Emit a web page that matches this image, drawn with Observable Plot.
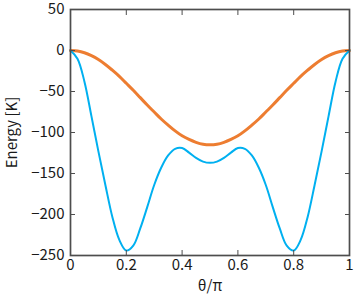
<!DOCTYPE html>
<html><head><meta charset="utf-8">
<script src="https://cdn.jsdelivr.net/npm/d3@7"></script>
<script src="https://cdn.jsdelivr.net/npm/@observablehq/plot@0.6"></script>
<style>html,body{margin:0;padding:0;background:#fff;}</style>
</head><body><div id="chart"></div>
<script>
const theta = [0,0.025,0.05,0.075,0.1,0.125,0.15,0.175,0.2,0.225,0.25,0.275,0.3,0.325,0.35,0.375,0.4,0.425,0.45,0.475,0.5,
  0.525,0.55,0.575,0.6,0.625,0.65,0.675,0.7,0.725,0.75,0.775,0.8,0.825,0.85,0.875,0.9,0.925,0.95,0.975,1];
const orangeE = [0,-0.7,-2.8,-6.3,-11,-17,-24,-31.5,-40,-48.5,-57.5,-66.5,-75,-83.5,-91,-98,-104,-108.5,-112,-114.3,-115,
  -114.3,-112,-108.5,-104,-98,-91,-83.5,-75,-66.5,-57.5,-48.5,-40,-31.5,-24,-17,-11,-6.3,-2.8,-0.7,0];
const blueE = [0,-10,-38,-80,-123,-164,-203,-231,-244,-238,-217,-191,-164,-143,-128,-120,-119,-124.5,-131,-135.5,-137,
  -135.5,-131,-124.5,-119,-120,-128,-143,-164,-191,-217,-238,-244,-231,-203,-164,-123,-80,-38,-10,0];
const seriesNames = ["blue","orange"];
const seriesColors = ["#00B0F0","#ED7D31"];
const xTicks = [0,0.2,0.4,0.6,0.8,1];
const xTickLabels = ["0","0.2","0.4","0.6","0.8","1"];
const yTicks = [50,0,-50,-100,-150,-200,-250];
const xLabel = "θ/π";
const yLabel = "Energy [K]";

const blueRows = theta.map((t,i)=>({t, e: blueE[i]}));
const orangeRows = theta.map((t,i)=>({t, e: orangeE[i]}));
const axisColor = "#4d4d4d";

const chart = Plot.plot({
  width: 354, height: 299,
  marginLeft: 70, marginRight: 5, marginTop: 9, marginBottom: 44,
  style: {fontFamily: "'Noto Sans CJK JP', sans-serif", fontSize: "15px", color: "#1a1a1a", background: "#fff"},
  x: {domain: [0,1]},
  y: {domain: [-250,50]},
  marks: [
    Plot.line(orangeRows, {x: "t", y: "e", stroke: seriesColors[1], strokeWidth: 3, curve: "catmull-rom"}),
    Plot.line(blueRows, {x: "t", y: "e", stroke: seriesColors[0], strokeWidth: 2, curve: "catmull-rom"}),
    Plot.axisX({ticks: xTicks, tickSize: -5, tickPadding: 9, tickFormat: (d)=>xTickLabels[xTicks.indexOf(d)], label: null, stroke: axisColor, fill: "#1a1a1a"}),
    Plot.axisX({anchor: "top", ticks: xTicks, tickSize: -5, tickFormat: ()=>"", label: null, stroke: axisColor}),
    Plot.axisY({ticks: yTicks, tickSize: -5, tickPadding: 11, label: null, stroke: axisColor, fill: "#1a1a1a"}),
    Plot.axisY({anchor: "right", ticks: yTicks, tickSize: -5, tickFormat: ()=>"", label: null, stroke: axisColor}),
    Plot.frame({stroke: axisColor, strokeWidth: 1.7}),
    Plot.text([yLabel], {frameAnchor: "left", dx: -58, rotate: -90, textAnchor: "middle", fontSize: 15, fill: "#1a1a1a"}),
    Plot.text([xLabel], {frameAnchor: "bottom", dy: 35, textAnchor: "middle", fontSize: 15, fill: "#1a1a1a"})
  ]
});
document.getElementById("chart").appendChild(chart);
</script>
</body></html>
